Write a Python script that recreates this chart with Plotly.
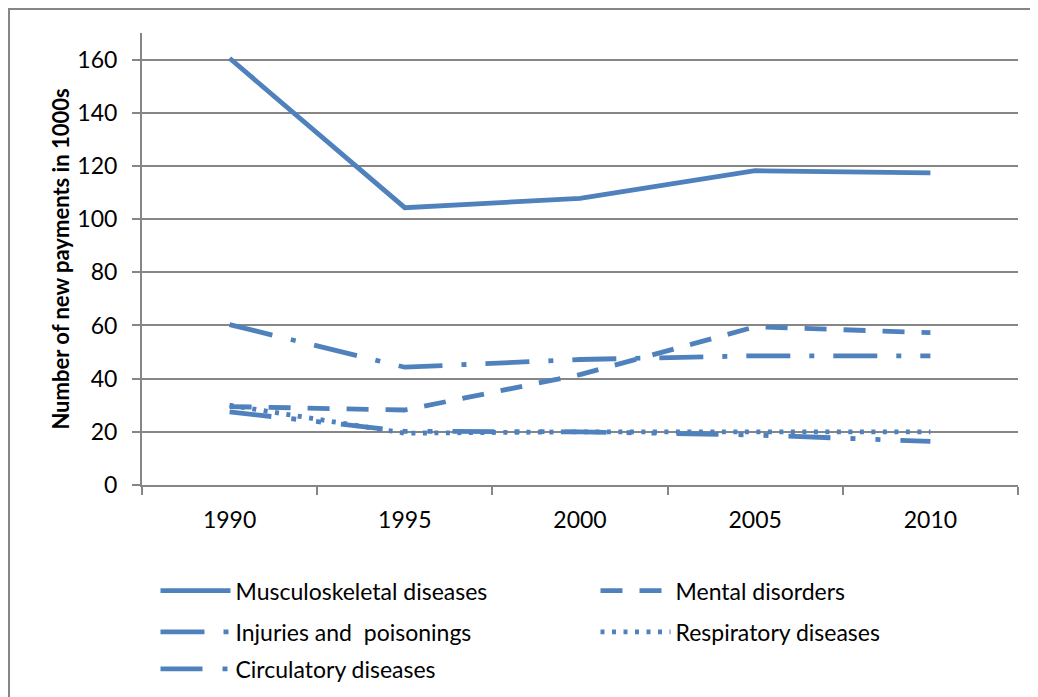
import plotly.graph_objects as go

years = ["1990", "1995", "2000", "2005", "2010"]
musculoskeletal = [160.5, 104.3, 107.8, 118.2, 117.4]
mental = [29.5, 28.2, 41.5, 59.5, 57.3]
injuries = [60.3, 44.3, 47.2, 48.6, 48.6]
respiratory = [30.0, 19.5, 20.0, 20.0, 20.0]
circulatory = [27.5, 20.2, 20.0, 18.8, 16.4]

blue = "#4F81BD"
grey = "#868686"
font = "Lato"

# name, values, dash, legend id, legend x, legend y
series = [
    ("Musculoskeletal diseases", musculoskeletal, "solid", "legend", 0.0154, -0.234),
    ("Mental disorders", mental, "22px,17px", "legend2", 0.5177, -0.234),
    ("Injuries and  poisonings", injuries, "44px,19px,5px,19px", "legend3", 0.0154, -0.325),
    ("Respiratory diseases", respiratory, "4px,7.5px", "legend4", 0.5177, -0.325),
    ("Circulatory diseases", circulatory, "42px,20px,5px,20px,5px,20px", "legend5", 0.0154, -0.407),
]

fig = go.Figure()
legends = {}
for name, vals, dash, leg, lx, ly in series:
    fig.add_trace(go.Scatter(
        x=years, y=vals, name=name, mode="lines",
        line=dict(color=blue, width=4.8, dash=dash),
        legend=leg, showlegend=True
    ))
    legends[leg] = dict(
        x=lx, y=ly, xanchor="left", yanchor="middle", itemwidth=70,
        font=dict(family=font, size=23, color="#000"),
        bgcolor="rgba(0,0,0,0)"
    )

# page body has an 8px margin, so the figure is shifted by 8px
fig.update_layout(
    width=1038, height=697,
    margin=dict(l=134, r=28, t=25, b=220),
    plot_bgcolor="white", paper_bgcolor="white",
    font=dict(family=font, size=23, color="#000"),
    showlegend=True,
    xaxis=dict(
        type="category", range=[-0.5, 4.5], tickson="boundaries",
        ticks="outside", ticklen=8, tickcolor=grey, tickwidth=2,
        showline=True, linecolor=grey, linewidth=2,
        showgrid=False, ticklabelstandoff=13, automargin=False
    ),
    yaxis=dict(
        range=[0, 170], tickvals=[0, 20, 40, 60, 80, 100, 120, 140, 160],
        ticks="outside", ticklen=8, tickcolor=grey, tickwidth=2,
        showline=True, linecolor=grey, linewidth=2,
        showgrid=True, gridcolor=grey, gridwidth=2, zeroline=False,
        ticklabelstandoff=10, automargin=False,
        title=dict(text="<b>Number of new payments in 1000s</b>",
                   font=dict(family=font, size=22), standoff=2)
    ),
    shapes=[dict(
        type="rect", xref="paper", yref="paper",
        x0=-0.1518, x1=1.2, y0=-0.6, y1=1.0531,
        line=dict(color=grey, width=2), layer="below"
    )],
    **legends
)

fig.write_html("out.html")
